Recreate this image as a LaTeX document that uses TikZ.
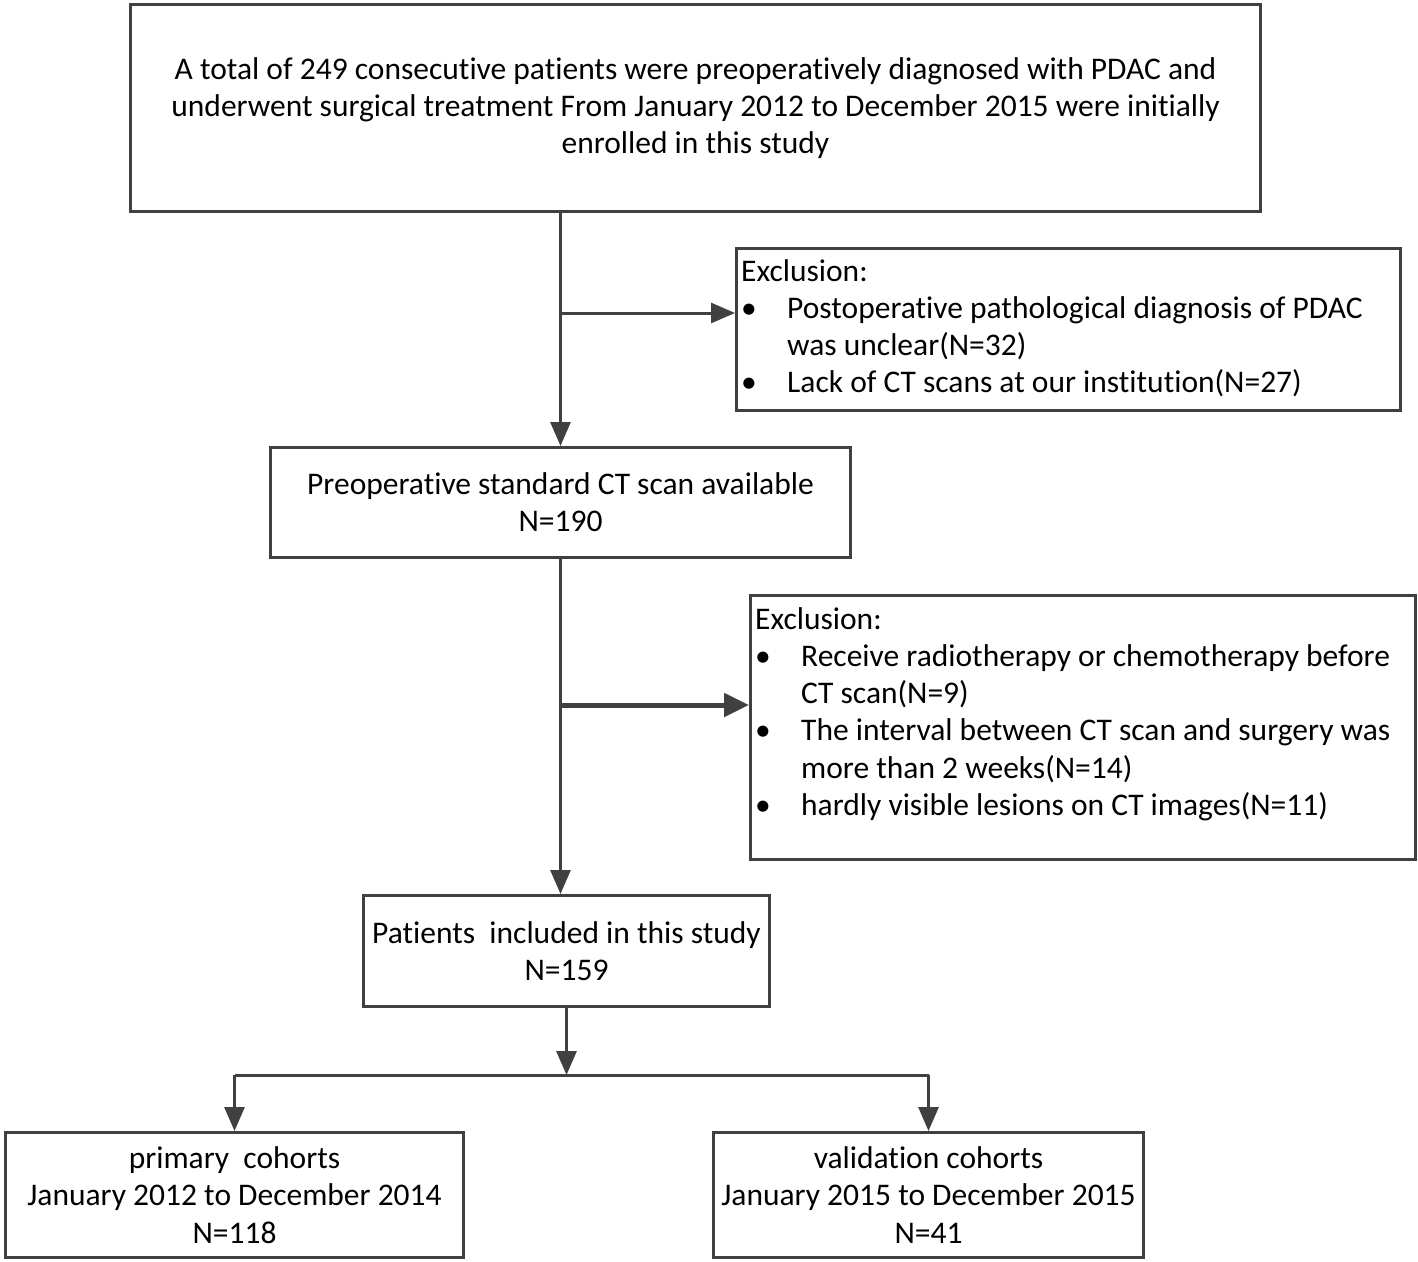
\documentclass[tikz,border=0pt]{standalone}
\usepackage{fontspec}
\setmainfont{Carlito}[Ligatures=NoCommon]
\usetikzlibrary{arrows.meta}
\definecolor{ln}{HTML}{404040}
\begin{document}
\begin{tikzpicture}[x=1pt,y=-1pt,
  box/.style={draw=ln, line width=3pt, inner sep=0pt, anchor=north west,
    font=\fontsize{31.5}{37.3}\selectfont, align=center},
  txt/.style={font=\fontsize{31.5}{37.3}\selectfont, align=left, inner sep=0pt, anchor=north west},
  line/.style={draw=ln, line width=3pt},
  conn/.style={draw=ln, line width=3pt, -{Triangle[length=24pt,width=20pt]}},
  connb/.style={draw=ln, line width=5pt, -{Triangle[length=25pt,width=23pt]}}]
\useasboundingbox (0,0) rectangle (1418,1261);
\newcommand{\bl}{\makebox[46pt][l]{\textbullet}}
% boxes
\node[box, minimum width=1130pt, minimum height=207pt] (top) at (129,3)
  {A total of 249 consecutive patients were preoperatively diagnosed with PDAC and\\
   underwent surgical treatment From January 2012 to December 2015 were initially\\
   enrolled in this study};
\node[box, minimum width=664pt, minimum height=162pt] (ex1) at (735,247) {};
\node[txt] (ex1t) at (741,259) {Exclusion:\\
  \bl Postoperative pathological diagnosis of PDAC\\
  \hspace*{46pt}was unclear(N=32)\\
  \bl Lack of CT scans at our institution(N=27)};
\node[box, minimum width=580pt, minimum height=110pt] (ct) at (269,446)
  {Preoperative standard CT scan available\\ N=190};
\node[box, minimum width=665pt, minimum height=264pt] (ex2) at (749,594) {};
\node[txt] (ex2t) at (755,607) {Exclusion:\\
  \bl Receive radiotherapy or chemotherapy before\\
  \hspace*{46pt}CT scan(N=9)\\
  \bl The interval between CT scan and surgery was\\
  \hspace*{46pt}more than 2 weeks(N=14)\\
  \bl hardly visible lesions on CT images(N=11)};
\node[box, minimum width=406pt, minimum height=111pt] (pat) at (362,894)
  {Patients\ \ included in this study\\ N=159};
\node[box, minimum width=458pt, minimum height=125pt] (prim) at (4,1131)
  {primary\ \ cohorts\\ January 2012 to December 2014\\ N=118};
\node[box, minimum width=430pt, minimum height=125pt] (val) at (712,1131)
  {validation cohorts\\ January 2015 to December 2015\\ N=41};
% connectors
\coordinate (b1) at (ct.north |- 0,313);
\coordinate (b2) at (ct.south |- 0,705);
\coordinate (sp) at (pat.south |- 0,1075);
\draw[conn] (top.south -| ct.north) -- (ct.north);
\draw[conn] (b1) -- (b1 -| ex1.west);
\draw[conn] (ct.south) -- (ct.south |- pat.north);
\draw[connb] (b2) -- (b2 -| ex2.west);
\draw[conn] (pat.south) -- (sp);
\draw[line] (sp -| prim.north) -- (sp -| val.north);
\draw[conn] (sp -| prim.north) -- (prim.north);
\draw[conn] (sp -| val.north) -- (val.north);
\end{tikzpicture}
\end{document}
